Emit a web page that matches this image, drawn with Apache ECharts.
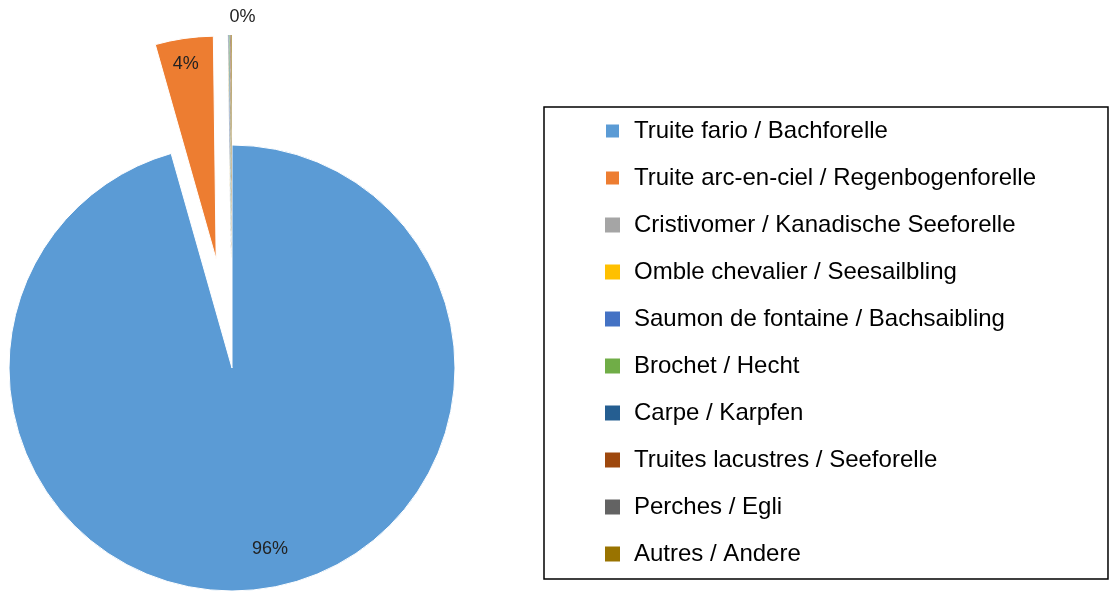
<!DOCTYPE html>
<html>
<head>
<meta charset="utf-8">
<script src="https://cdn.jsdelivr.net/npm/echarts@6/dist/echarts.min.js"></script>
<style>
  html, body { margin: 0; padding: 0; background: #fff; }
  #main { width: 1111px; height: 591px; }
</style>
</head>
<body>
<div id="main"></div>
<script>
// espèces / Arten
const species = [
  'Truite fario / Bachforelle',
  'Truite arc-en-ciel / Regenbogenforelle',
  'Cristivomer / Kanadische Seeforelle',
  'Omble chevalier / Seesailbling',
  'Saumon de fontaine / Bachsaibling',
  'Brochet / Hecht',
  'Carpe / Karpfen',
  'Truites lacustres / Seeforelle',
  'Perches / Egli',
  'Autres / Andere'
]
// parts en %
const shares = [95.6, 4.2, 0.02, 0.01, 0.04, 0.03, 0.01, 0.03, 0.02, 0.04]
const colors = ['#5B9BD5', '#ED7D31', '#A5A5A5', '#FFC000', '#4472C4', '#70AD47', '#255E91', '#9E480E', '#636363', '#997300']

const chart = echarts.init(document.getElementById('main'))

// slices pulled out of the pie: all but the first
const pieData = species.map((name, i) => ({
  name: name,
  value: shares[i],
  selected: i > 0,
  itemStyle: { color: colors[i], borderWidth: i < 2 ? 1 : 0 },
  label: { show: i === species.length - 1 }
}))

// transparent copy only used to place the big labels near the rim
const labelData = species.map((name, i) => ({
  name: name,
  value: shares[i],
  selected: i > 0,
  label: { show: i < 2 }
}))

chart.setOption({
  animation: false,
  legend: {
    orient: 'vertical',
    left: 544,
    top: 107,
    height: 560,
    itemWidth: 15,
    itemHeight: 15,
    itemGap: 23,
    icon: 'rect',
    borderColor: '#000',
    borderWidth: 1.5,
    padding: [12, 72, 13, 60],
    selectedMode: false,
    textStyle: {
      fontFamily: 'Liberation Sans',
      fontSize: 24,
      color: '#000',
      padding: [0, 0, 0, 9]
    },
    data: species
  },
  series: [
    {
      type: 'pie',
      center: [232, 368],
      radius: 223,
      startAngle: 90,
      clockwise: true,
      selectedMode: 'multiple',
      selectedOffset: 110,
      percentPrecision: 0,
      itemStyle: { borderColor: '#fff', borderWidth: 1 },
      emphasis: { disabled: true },
      label: {
        position: 'outside',
        formatter: '{d}%',
        fontFamily: 'Liberation Sans',
        fontSize: 18,
        color: '#222'
      },
      labelLine: { show: false, length: 6, length2: 0 },
      labelLayout: { dx: 29, dy: -12 },
      data: pieData
    },
    {
      type: 'pie',
      silent: true,
      center: [232, 368],
      radius: [150, 223],
      startAngle: 90,
      clockwise: true,
      selectedMode: 'multiple',
      selectedOffset: 110,
      percentPrecision: 0,
      itemStyle: { color: 'transparent' },
      emphasis: { disabled: true },
      label: {
        position: 'inside',
        formatter: '{d}%',
        fontFamily: 'Liberation Sans',
        fontSize: 18,
        color: '#222'
      },
      labelLayout: function (params) {
        return params.dataIndex === 0 ? { dx: 12, dy: -7 } : { dx: -3, dy: -8 }
      },
      data: labelData
    }
  ]
})
</script>
</body>
</html>
